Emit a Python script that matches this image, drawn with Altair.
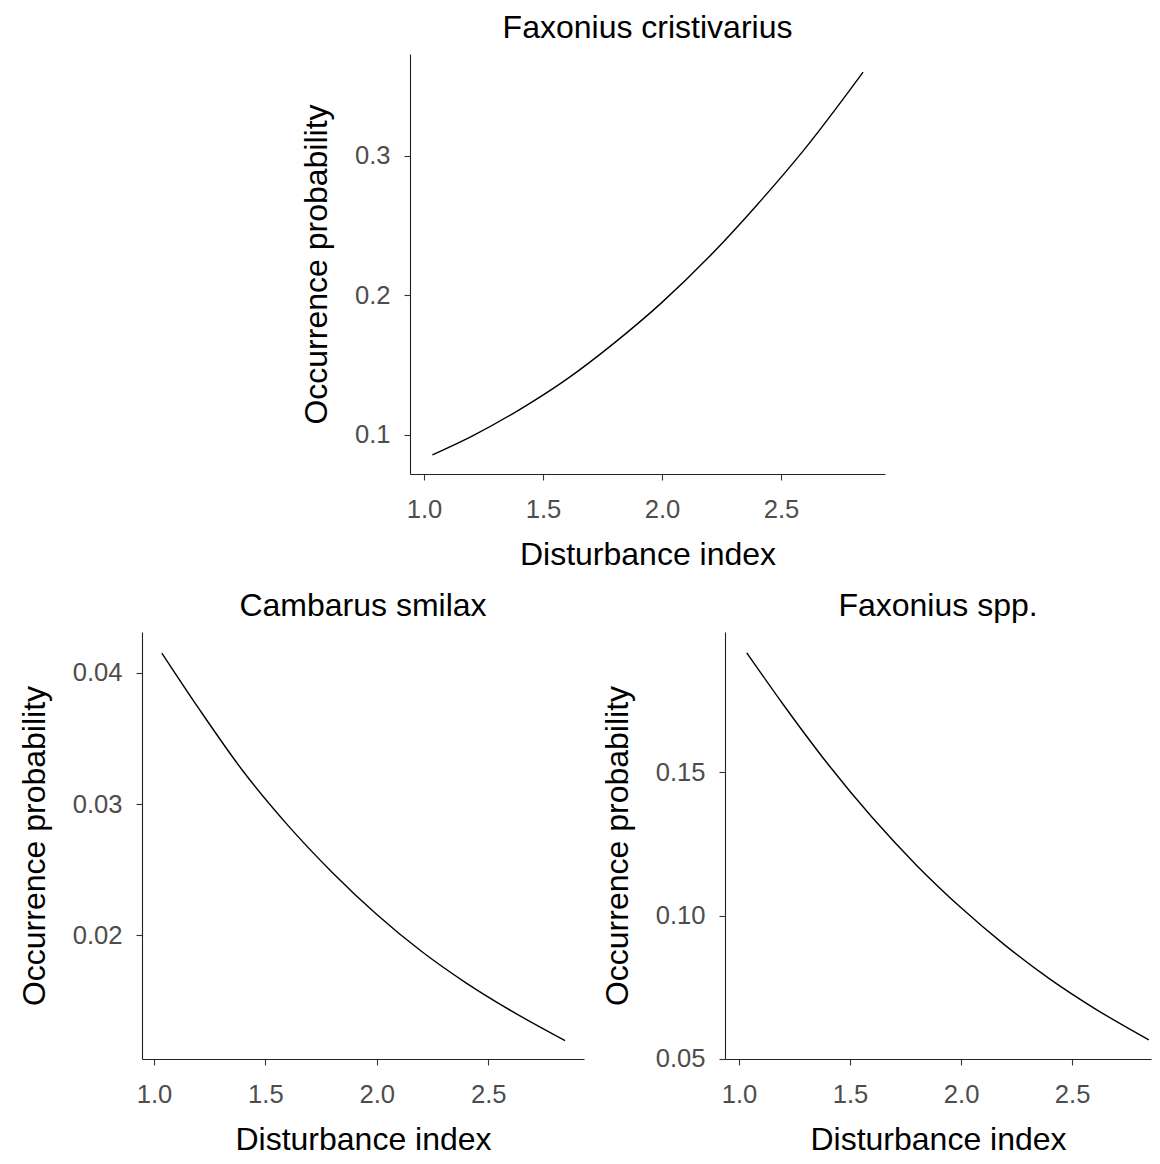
import altair as alt
import pandas as pd

FONT = "Liberation Sans"

# Disturbance index values along the fitted curves
x_vals = [1.035, 1.2, 1.4, 1.6, 1.8, 2.0, 2.2, 2.4, 2.6, 2.845]

# Occurrence probability
cristivarius = [0.0857, 0.0990, 0.118, 0.140, 0.166, 0.195, 0.228, 0.265, 0.305, 0.360]
smilax = [0.0415, 0.0373, 0.0325, 0.0284, 0.0248, 0.0216, 0.0188, 0.0164, 0.0143, 0.0120]
faxonius_spp = [0.1917, 0.1736, 0.1529, 0.1342, 0.1175, 0.1027, 0.0895, 0.0778, 0.0676, 0.0566]

titles = ["Faxonius cristivarius", "Cambarus smilax", "Faxonius spp."]
x_ticks = [1.0, 1.5, 2.0, 2.5]
y_ticks_top = [0.1, 0.2, 0.3]
y_ticks_bl = [0.02, 0.03, 0.04]
y_ticks_br = [0.05, 0.10, 0.15]


def panel(ys, title, xdom, ydom, yticks, yfmt, w, h):
    df = pd.DataFrame({"x": x_vals, "y": ys})
    return (
        alt.Chart(
            df,
            title=alt.TitleParams(
                title, fontSize=32, font=FONT, fontWeight="normal", color="black",
                anchor="middle", frame="group", baseline="alphabetic", offset=-16,
            ),
        )
        .mark_line(color="black", strokeWidth=1.4, interpolate="monotone")
        .encode(
            x=alt.X(
                "x:Q",
                scale=alt.Scale(domain=xdom, nice=False, zero=False),
                axis=alt.Axis(values=x_ticks, format=".1f", title="Disturbance index",
                              labelPadding=17, titlePadding=17),
            ),
            y=alt.Y(
                "y:Q",
                scale=alt.Scale(domain=ydom, nice=False, zero=False),
                axis=alt.Axis(values=yticks, format=yfmt, title="Occurrence probability",
                              labelPadding=14, titlePadding=21),
            ),
        )
        .properties(width=w, height=h)
    )


top = panel(cristivarius, titles[0], [0.941, 2.937], [0.072, 0.373], y_ticks_top, ".1f", 475, 420)
bl = panel(smilax, titles[1], [0.946, 2.93], [0.0106, 0.0431], y_ticks_bl, ".2f", 442, 427)
br = panel(faxonius_spp, titles[2], [0.937, 2.855], [0.0499, 0.199], y_ticks_br, ".2f", 426, 427)

spacer = (
    alt.Chart(pd.DataFrame({"a": [0]}))
    .mark_point(opacity=0)
    .encode(x=alt.value(20), y=alt.value(5))
    .properties(width=158, height=10)
)

top_row = alt.hconcat(spacer, top, spacing=0)
bottom_row = alt.hconcat(bl, br, spacing=17)

chart = (
    alt.vconcat(top_row, bottom_row, spacing=19)
    .properties(padding={"left": 10, "top": 4, "right": 0, "bottom": 0}, background="white")
    .configure_view(strokeWidth=0)
    .configure_axis(
        domainColor="#222222", domainWidth=1.1,
        tickColor="#333333", tickSize=6, tickWidth=1.1,
        labelFont=FONT, labelFontSize=25.6, labelColor="#4d4d4d",
        labelFlush=False, labelOverlap=False,
        titleFont=FONT, titleFontSize=32, titleColor="black", titleFontWeight="normal",
        grid=False,
    )
)

chart.save("out.html", embed_options={"renderer": "svg", "actions": False})
